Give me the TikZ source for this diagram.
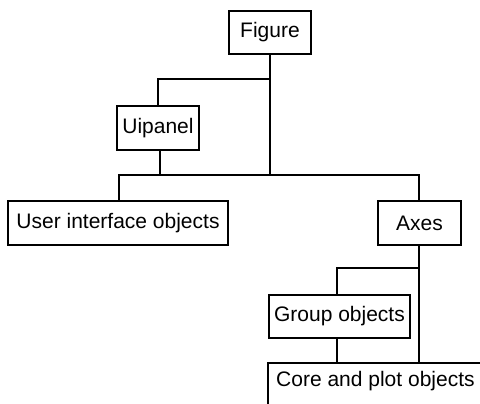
\documentclass[tikz,border=0pt]{standalone}
\usepackage{fontspec}
\setmainfont{Liberation Sans}
\begin{document}
\begin{tikzpicture}[x=1pt,y=-1pt,
  box/.style={draw, line width=1.3pt, inner sep=0pt, font=\fontsize{21}{22}\selectfont, anchor=center},
  conn/.style={line width=1.3pt},
  lbl/.style={inner sep=0pt, font=\fontsize{21}{22}\selectfont}]
\useasboundingbox (0,0) rectangle (480,404);
\clip (0,0) rectangle (480,404);
% boxes
\node[box, minimum width=82pt, minimum height=43pt] (fig) at (270,32.5) {Figure};
\node[box, minimum width=82pt, minimum height=44pt] (uip) at (158,128) {Uipanel};
\node[box, minimum width=220pt, minimum height=44pt] (ui) at (118,223) {User interface objects};
\node[box, minimum width=83pt, minimum height=44pt] (axes) at (419.5,223) {Axes};
\node[box, minimum width=141pt, minimum height=43pt] (grp) at (339.5,316.5) {Group objects};
\node[lbl, anchor=base west] (core) at (276,386) {Core and plot objects};
% core box (cut off by the picture edge)
\coordinate (ctl) at (268,363);
\draw[conn] (268,420) -- (ctl) -- (500,363);
% junctions
\coordinate (j1) at (270,79);
\coordinate (j1l) at (158,79);
\coordinate (j2) at (270,175);
\coordinate (j2u) at (160,175);
\coordinate (j2l) at (119,175);
\coordinate (j2r) at (419,175);
\coordinate (j3) at (419,268);
\coordinate (j3l) at (337,268);
\coordinate (c1) at (337,363);
\coordinate (c2) at (419,363);
% connectors
\draw[conn] (fig.south) -- (j2);
\draw[conn] (j1) -- (j1l) -- (j1l |- uip.north);
\draw[conn] (j2u |- uip.south) -- (j2u);
\draw[conn] (j2l |- ui.north) -- (j2l) -- (j2r) -- (j2r |- axes.north);
\draw[conn] (j3 |- axes.south) -- (c2);
\draw[conn] (j3) -- (j3l) -- (j3l |- grp.north);
\draw[conn] (c1 |- grp.south) -- (c1);
\end{tikzpicture}
\end{document}
